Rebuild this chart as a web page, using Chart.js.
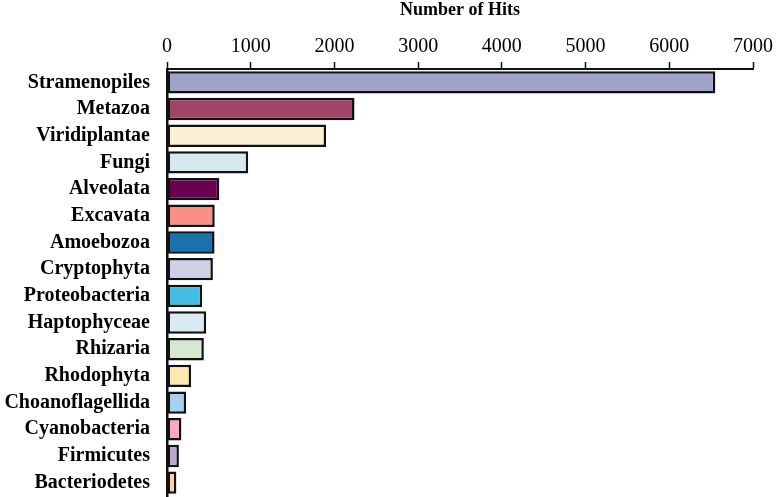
<!DOCTYPE html>
<html>
<head>
<meta charset="utf-8">
<script src="https://cdn.jsdelivr.net/npm/chart.js@4.4.0/dist/chart.umd.min.js"></script>
<style>
  body { margin: 0; background: #fff; }
  #wrap { width: 780px; height: 497px; }
</style>
</head>
<body>
<div id="wrap"><canvas id="chart"></canvas></div>
<script>
// values
const categories = [
  "Stramenopiles", "Metazoa", "Viridiplantae", "Fungi", "Alveolata", "Excavata",
  "Amoebozoa", "Cryptophyta", "Proteobacteria", "Haptophyceae", "Rhizaria",
  "Rhodophyta", "Choanoflagellida", "Cyanobacteria", "Firmicutes", "Bacteriodetes"
];
const hits = [6550, 2240, 1900, 970, 625, 570, 568, 548, 420, 468, 440, 288, 228, 172, 142, 112];
const barColors = [
  "#a0a3c8", "#a04468", "#fbf0d6", "#d4e8ee", "#6a0054", "#fa8f86",
  "#1a72ad", "#d0d1e6", "#44bde4", "#d8ebf0", "#d6e8cf", "#fdeab0",
  "#a6d0ec", "#f6a9c7", "#bba9cf", "#fdd1a8"
];
const xTicks = [0, 1000, 2000, 3000, 4000, 5000, 6000, 7000];

const serif = "'Liberation Serif', 'Times New Roman', serif";

new Chart(document.getElementById("chart").getContext("2d"), {
  type: "bar",
  data: {
    labels: categories,
    datasets: [{
      data: hits,
      backgroundColor: barColors,
      borderColor: "#111",
      borderWidth: 2.5,
      borderSkipped: false,
      categoryPercentage: 1,
      barPercentage: 0.84,
    }],
  },
  options: {
    indexAxis: "y",
    responsive: true,
    maintainAspectRatio: false,
    animation: false,
    layout: { padding: { top: 0, right: 27, bottom: 1, left: 0 } },
    plugins: {
      legend: { display: false },
      tooltip: { enabled: false },
    },
    scales: {
      x: {
        position: "top",
        min: 0,
        max: 7000,
        afterBuildTicks: (scale) => {
          scale.ticks = xTicks.map((v) => ({ value: v }));
        },
        afterFit: (scale) => { scale.height = 69; },
        title: {
          display: true,
          text: "Number of Hits",
          color: "#000",
          font: { family: serif, size: 18, weight: "bold" },
          padding: { top: 0, bottom: 0 },
        },
        ticks: {
          color: "#000",
          padding: 3,
          maxRotation: 0,
          callback: (v) => String(v),
          font: { family: serif, size: 20 },
        },
        grid: {
          drawOnChartArea: false,
          tickLength: 7,
          tickColor: "#111",
          tickWidth: 1.5,
        },
        border: { display: true, color: "#111", width: 2 },
      },
      y: {
        afterFit: (scale) => {
          scale.width = 167;
          scale.paddingTop = 0;
          scale.paddingBottom = 0;
        },
        ticks: {
          color: "#000",
          padding: 17,
          autoSkip: false,
          font: { family: serif, size: 20, weight: "bold" },
        },
        grid: { drawOnChartArea: false, drawTicks: false },
        border: { display: true, color: "#111", width: 2.5 },
      },
    },
  },
});
</script>
</body>
</html>
